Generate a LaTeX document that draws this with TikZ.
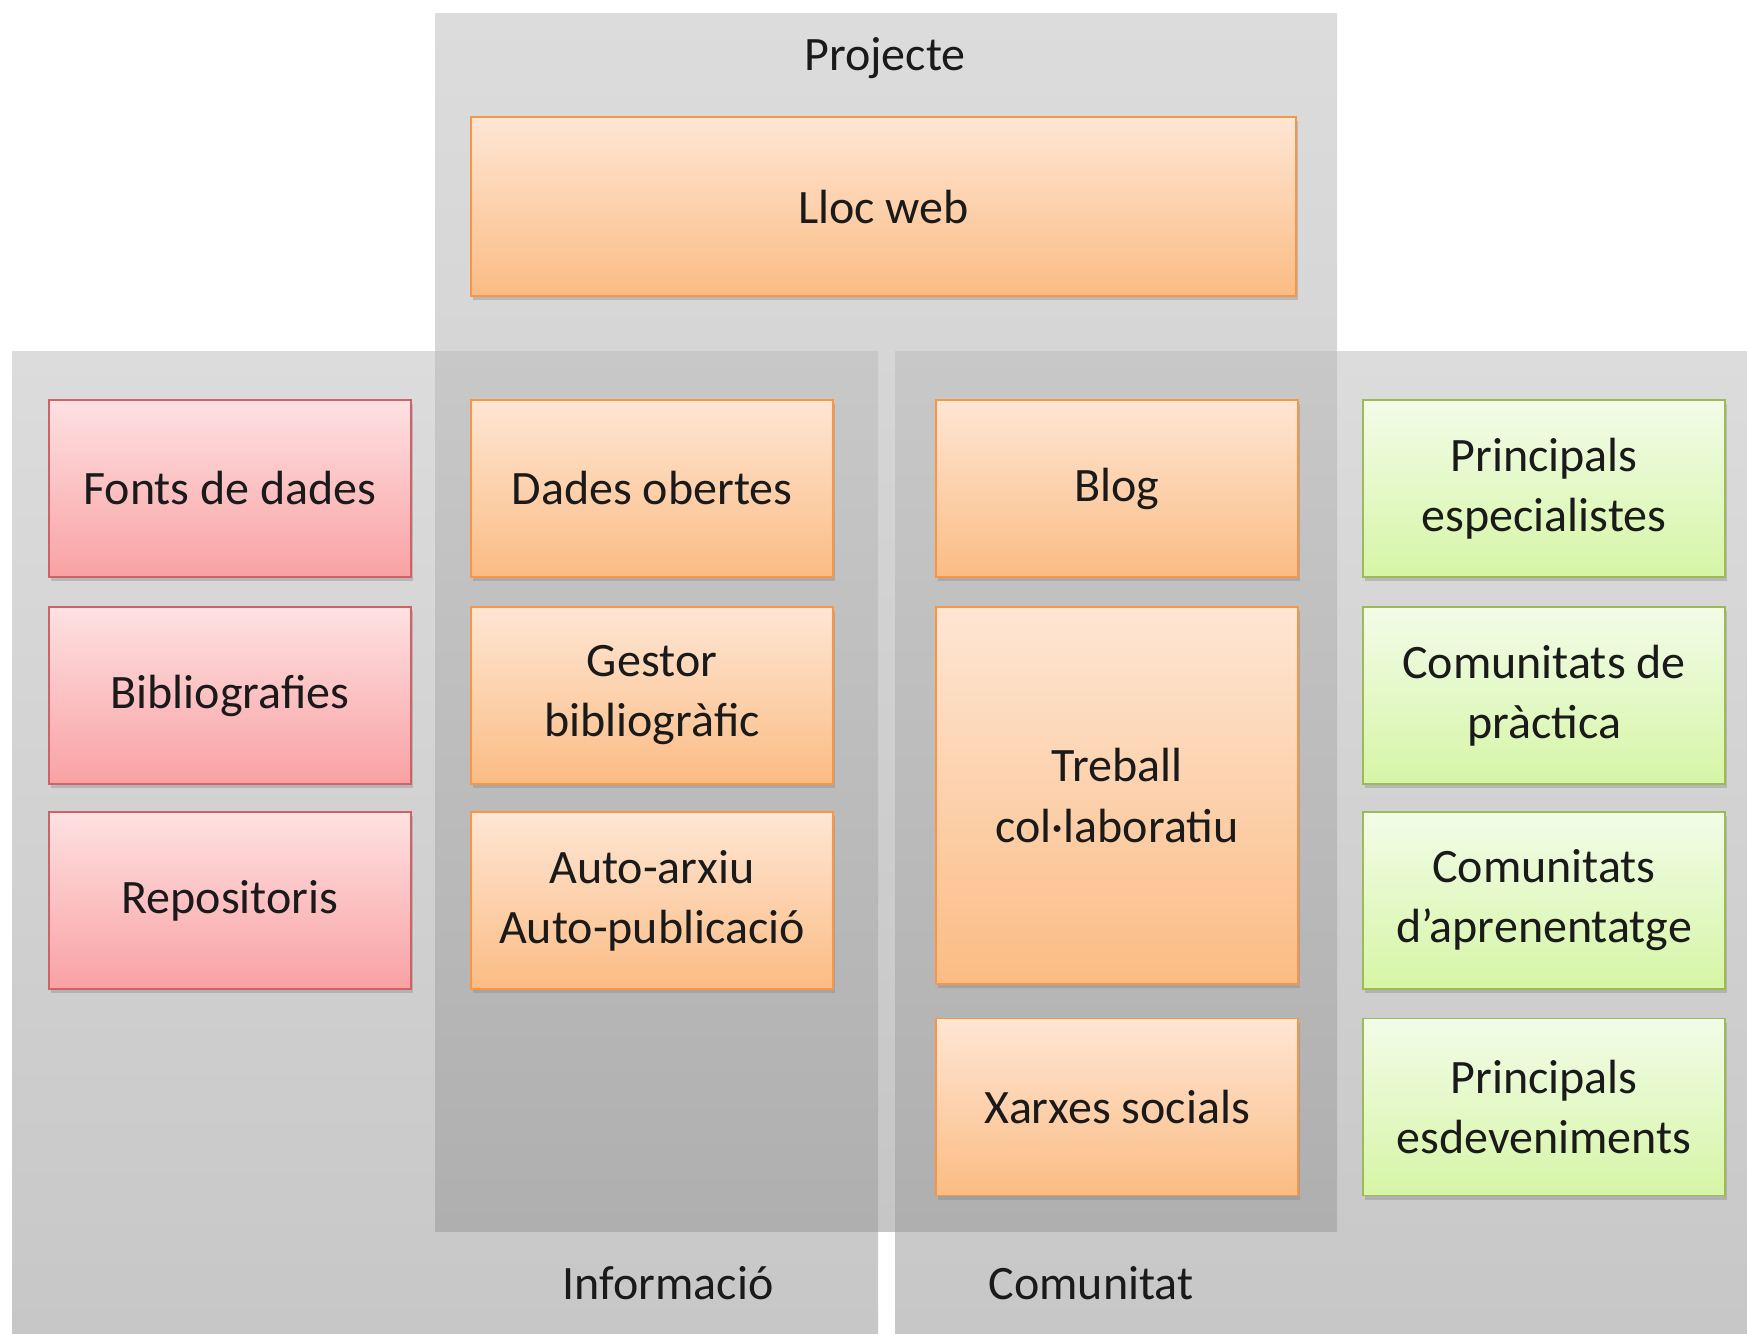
\documentclass[tikz,border=0pt]{standalone}
\usepackage{fontspec}
\setmainfont{Carlito}
\usetikzlibrary{shadows}
\definecolor{txt}{HTML}{1A1A1A}
\definecolor{obord}{HTML}{F79646}
\definecolor{otop}{HTML}{FEE6D4}
\definecolor{obot}{HTML}{FBBC84}
\definecolor{rbord}{HTML}{CD6366}
\definecolor{rtop}{HTML}{FEE1E2}
\definecolor{rbot}{HTML}{F9A1A3}
\definecolor{gbord}{HTML}{9BBB59}
\definecolor{gtop}{HTML}{F2FCE8}
\definecolor{gbot}{HTML}{D6F5A6}
\definecolor{ptop}{HTML}{DCDCDC}
\definecolor{pbot}{HTML}{C6C6C6}
\definecolor{itop}{HTML}{DCDCDC}
\definecolor{ibot}{HTML}{C7C7C7}
\definecolor{vtop}{HTML}{C8C8C8}
\definecolor{vbot}{HTML}{AFAFAF}
\begin{document}
\begin{tikzpicture}[x=1pt,y=-1pt,
  basebox/.style={draw, line width=1.8pt, inner sep=0pt, minimum width=362pt,
    minimum height=177pt, align=center, text=txt,
    font=\fontsize{48}{60}\selectfont,
    drop shadow={shadow xshift=2pt, shadow yshift=-4pt, opacity=0.35}},
  obox/.style={basebox, draw=obord, top color=otop, bottom color=obot},
  rbox/.style={basebox, draw=rbord, top color=rtop, bottom color=rbot},
  gbox/.style={basebox, draw=gbord, top color=gtop, bottom color=gbot},
  plabel/.style={anchor=base, text=txt, font=\fontsize{48}{60}\selectfont}]
\useasboundingbox (0,0) rectangle (1747,1333);
\fill[white] (0,0) rectangle (1747,1333);
% panels
\shade[top color=ptop, bottom color=pbot] (435,13) rectangle (1337,1231);
\shade[top color=itop, bottom color=ibot] (12,351) rectangle (878,1333);
\shade[top color=itop, bottom color=ibot] (895,351) rectangle (1747,1333);
\shade[top color=vtop, bottom color=vbot] (435,351) rectangle (878,1231);
\shade[top color=vtop, bottom color=vbot] (895,351) rectangle (1337,1231);
% panel labels
\node[plabel] (lblP) at (885,70) {Projecte};
\node[plabel] (lblI) at (668,1299) {Informació};
\node[plabel] (lblC) at (1091,1299) {Comunitat};
% top box
\node[obox, minimum width=825pt, minimum height=179pt] (lloc) at (883.5,206.5) {Lloc web};
% column 1
\node[rbox] (fonts) at (230,488.5) {Fonts de dades};
\node[rbox] (biblio) at (230,695.5) {Bibliografies};
\node[rbox] (repos) at (230,900.5) {Repositoris};
% column 2
\node[obox] (dades) at (652,488.5) {Dades obertes};
\node[obox] (gestor) at (652,695.5) {Gestor\\bibliogràfic};
\node[obox] (auto) at (652,900.5) {Auto-arxiu\\Auto-publicació};
% column 3
\node[obox] (blog) at (1117,488.5) {Blog};
\node[obox, minimum height=377pt] (treball) at (1117,795.5) {Treball\\col·laboratiu};
\node[obox] (xarxes) at (1117,1107) {Xarxes socials};
% column 4
\node[gbox] (espec) at (1544,488.5) {Principals\\especialistes};
\node[gbox] (pract) at (1544,695.5) {Comunitats de\\pràctica};
\node[gbox] (apren) at (1544,900.5) {Comunitats\\d’aprenentatge};
\node[gbox] (esdev) at (1544,1107) {Principals\\esdeveniments};
\end{tikzpicture}
\end{document}
